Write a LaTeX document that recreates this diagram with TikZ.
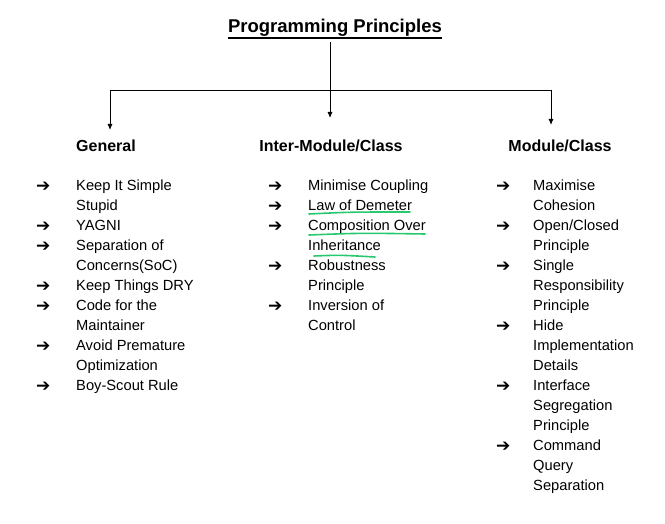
\documentclass[tikz,border=0pt]{standalone}
\usepackage{fontspec}
\setmainfont{Liberation Sans}
\newfontfamily\symfont{DejaVu Sans}
\usetikzlibrary{arrows.meta}
\definecolor{markgreen}{RGB}{40,200,110}
\tikzstyle{heading} = [font=\fontsize{16}{18}\selectfont\bfseries, inner sep=0pt]
\tikzstyle{item} = [anchor=north west, align=left, inner sep=0pt, font=\fontsize{14.7}{20}\selectfont]
\tikzstyle{bullet} = [anchor=west, inner sep=0pt, font=\symfont\fontsize{17}{20}\selectfont]
\tikzstyle{line} = [line width=0.9pt, -{Latex[length=6pt,width=5pt]}]
\tikzstyle{greenmark} = [draw=markgreen, line width=1.6pt, line cap=round]
\begin{document}
\begin{tikzpicture}[x=1pt,y=-1pt]
\useasboundingbox (0,0) rectangle (665,524);
\node (title) [font=\fontsize{18.5}{20}\selectfont\bfseries, inner sep=0pt] at (335,28) {Programming Principles};
\draw [line width=1.2pt] (228,38) -- (442,38);
\coordinate (top) at (330,42);
\coordinate (left) at (110,90);
\coordinate (right) at (551,90);
\node (general) [heading] at (106,146) {General};
\node (inter) [heading] at (331,146) {Inter-Module/Class};
\node (module) [heading] at (560,146) {Module/Class};
\draw [line] (top) -- (330,118);
\draw [line width=0.9pt] (left) -- (right);
\draw [line] (left) -- (110,130);
\draw [line] (right) -- (551,125);
% General
\foreach \n/\l/\t in {1/0/{Keep It Simple\\Stupid}, 2/2/YAGNI, 3/3/{Separation of\\Concerns(SoC)}, 4/5/Keep Things DRY, 5/6/{Code for the\\Maintainer}, 6/8/{Avoid Premature\\Optimization}, 7/10/Boy-Scout Rule}{
  \node (ga\n) [bullet] at (36,187+20*\l) {➔};
  \node (g\n) [item] at (76,180+20*\l) {\t};
}
% Inter-Module/Class
\foreach \n/\l/\t in {1/0/Minimise Coupling, 2/1/Law of Demeter, 3/2/{Composition Over\\Inheritance}, 4/4/{Robustness\\Principle}, 5/6/{Inversion of\\Control}}{
  \node (ia\n) [bullet] at (268,187+20*\l) {➔};
  \node (i\n) [item] at (308,180+20*\l) {\t};
}
% Module/Class
\foreach \n/\l/\t in {1/0/{Maximise\\Cohesion}, 2/2/{Open/Closed\\Principle}, 3/4/{Single\\Responsibility\\Principle}, 4/7/{Hide\\Implementation\\Details}, 5/10/{Interface\\Segregation\\Principle}, 6/13/{Command\\Query\\Separation}}{
  \node (ma\n) [bullet] at (496,187+20*\l) {➔};
  \node (m\n) [item] at (533,180+20*\l) {\t};
}
\draw [greenmark] (309,214) .. controls (350,212) .. (410,212);
\draw [greenmark] (309,235) .. controls (360,233) .. (425,234);
\draw [greenmark] (314,256) .. controls (340,255) .. (375,257);
\end{tikzpicture}
\end{document}
